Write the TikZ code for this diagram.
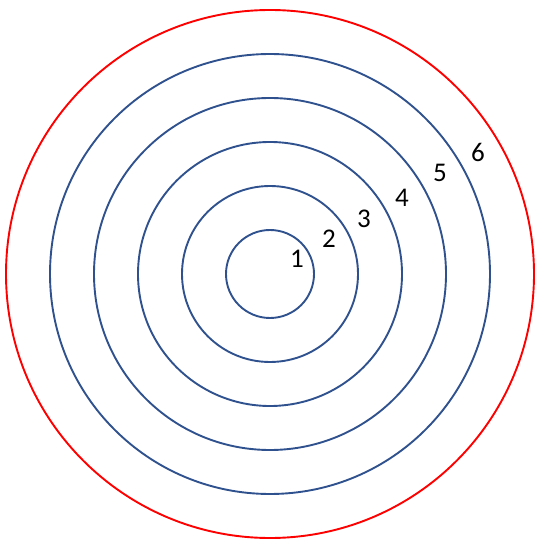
\documentclass[tikz,border=0pt]{standalone}
\usepackage{fontspec}
\setmainfont{Carlito}
\definecolor{ringblue}{HTML}{2F528F}
\definecolor{ringred}{HTML}{FF0000}
\begin{document}
\begin{tikzpicture}[x=1pt,y=-1pt,
  ring/.style={draw=ringblue,line width=1.9pt},
  outer/.style={draw=ringred,line width=1.9pt},
  lbl/.style={anchor=base,inner sep=0pt,font=\fontsize{27}{31}\selectfont}]
\useasboundingbox (0,0) rectangle (546,545);
\coordinate (c) at (270,274);
\foreach \r in {44,88,132,176,220} \draw[ring] (c) circle[radius=\r];
\draw[outer] (c) circle[radius=264];
\node[lbl] (l1) at (297,268) {1};
\node[lbl] (l2) at (329,248) {2};
\node[lbl] (l3) at (364,228) {3};
\node[lbl] (l4) at (402,207) {4};
\node[lbl] (l5) at (440,182) {5};
\node[lbl] (l6) at (478,162) {6};
\end{tikzpicture}
\end{document}
